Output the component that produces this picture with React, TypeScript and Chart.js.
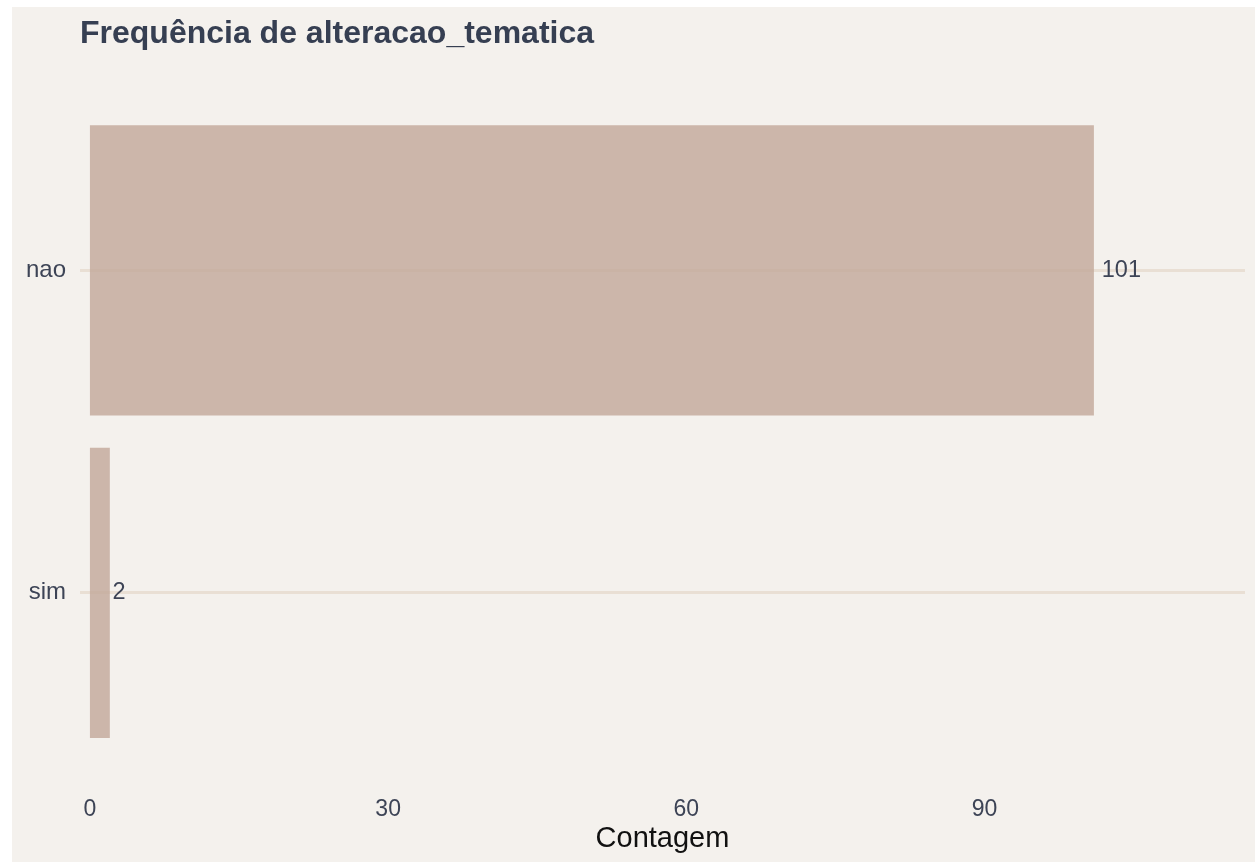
import React, { useEffect, useRef } from "react";
import { Chart, registerables } from "chart.js";

Chart.register(...registerables);

const TITLE = "Frequência de alteracao_tematica";
const CATEGORIES = ["nao", "sim"];
const COUNTS = [101, 2];
const X_TICKS = [0, 30, 60, 90];
const X_TITLE = "Contagem";

const FONT = "'Liberation Sans', Arial, Helvetica, sans-serif";
const TEXT_COLOR = "#3d4456";

export default function App() {
  const ref = useRef<HTMLCanvasElement | null>(null);

  useEffect(() => {
    if (!ref.current) return;
    const titlePlugin = {
      id: "customTitle",
      afterDraw(chart: any) {
        const { ctx } = chart;
        ctx.save();
        ctx.font = `bold 32px ${FONT}`;
        ctx.fillStyle = "#363f52";
        ctx.textAlign = "left";
        ctx.textBaseline = "middle";
        ctx.fillText(TITLE, chart.chartArea.left, 27);
        ctx.restore();
      },
    };
    const labelPlugin = {
      id: "barLabels",
      afterDatasetsDraw(chart: any) {
        const { ctx } = chart;
        const meta = chart.getDatasetMeta(0);
        ctx.save();
        ctx.font = `23.5px ${FONT}`;
        ctx.fillStyle = TEXT_COLOR;
        ctx.textAlign = "left";
        ctx.textBaseline = "middle";
        meta.data.forEach((bar: any, i: number) => {
          const txt = String(COUNTS[i]);
          const w = ctx.measureText(txt).width;
          ctx.fillText(txt, bar.x + 0.2 * w, bar.y);
        });
        ctx.restore();
      },
    };
    const chart = new Chart(ref.current, {
      type: "bar",
      data: {
        labels: CATEGORIES,
        datasets: [
          {
            data: COUNTS,
            backgroundColor: "rgba(194,167,153,0.8)",
            borderWidth: 0,
            barPercentage: 0.9,
            categoryPercentage: 1,
          },
        ],
      },
      options: {
        indexAxis: "y",
        animation: false,
        responsive: false,
        maintainAspectRatio: false,
        layout: { padding: { top: 102, right: 10, left: 0, bottom: 0 } },
        plugins: {
          legend: { display: false },
          title: { display: false },
          tooltip: { enabled: false },
        },
        scales: {
          x: {
            type: "linear",
            min: -1,
            max: 116.2,
            grid: { display: false, drawTicks: false },
            border: { display: false },
            afterBuildTicks: (scale: any) => {
              scale.ticks = X_TICKS.map((v) => ({ value: v }));
            },
            afterFit: (scale: any) => {
              scale.height = 108;
            },
            ticks: {
              padding: 42,
              color: TEXT_COLOR,
              font: { family: FONT, size: 23 },
              maxRotation: 0,
            },
            title: {
              display: true,
              text: X_TITLE,
              color: "#111111",
              font: { family: FONT, size: 29 },
              padding: { top: 0, bottom: 6 },
            },
          },
          y: {
            type: "category",
            offset: true,
            grid: {
              offset: false,
              color: "#e9dfd4",
              lineWidth: 3,
              drawTicks: false,
            },
            border: { display: false },
            afterFit: (scale: any) => {
              scale.width = 68;
            },
            ticks: {
              padding: 14,
              color: TEXT_COLOR,
              font: { family: FONT, size: 24 },
            },
          },
        },
      },
      plugins: [titlePlugin, labelPlugin],
    });
    return () => chart.destroy();
  }, []);

  return (
    <div
      style={{
        position: "fixed",
        left: 12,
        top: 7,
        width: 1243,
        height: 855,
        background: "#f4f1ed",
      }}
    >
      <canvas ref={ref} width={1243} height={855} style={{ display: "block" }} />
    </div>
  );
}
